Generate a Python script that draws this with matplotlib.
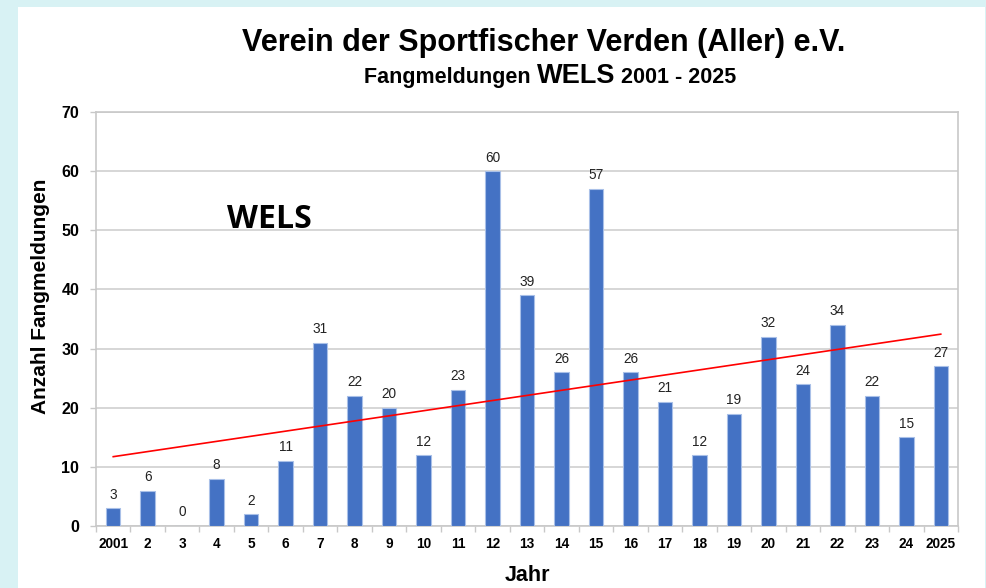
import matplotlib.pyplot as plt
import numpy as np
from matplotlib.patches import Rectangle

# Data
year_labels = ['2001', '2', '3', '4', '5', '6', '7', '8', '9', '10', '11', '12', '13',
               '14', '15', '16', '17', '18', '19', '20', '21', '22', '23', '24', '2025']
catches = [3, 6, 0, 8, 2, 11, 31, 22, 20, 12, 23, 60, 39, 26, 57, 26, 21, 12, 19, 32,
           24, 34, 22, 15, 27]

plt.rcParams['font.family'] = ['Liberation Sans', 'DejaVu Sans']

fig = plt.figure(figsize=(9.86, 5.88), dpi=100)
fig.patch.set_facecolor('#d8f2f4')
# white panel
fig.patches.append(Rectangle((18 / 986, 0), (985 - 18) / 986, 1 - 7 / 588,
                             transform=fig.transFigure, facecolor='white',
                             edgecolor='none', zorder=-1))

ax = fig.add_axes([96 / 986, 1 - 526 / 588, (958 - 96) / 986, (526 - 112) / 588])
ax.set_zorder(2)
ax.patch.set_alpha(0)

x = np.arange(1, len(catches) + 1)
ax.bar(x, catches, width=0.42, color='#4472c4', edgecolor='#a9c0e8', linewidth=0.8, zorder=3)

for xi, v in zip(x, catches):
    ax.text(xi, v + 1.1, str(v), ha='center', va='bottom', fontsize=9.8, color='#222222', zorder=4)

# linear trend
k, d = np.polyfit(x, catches, 1)
ax.plot(x, k * x + d, color='#ff0000', linewidth=1.2, zorder=5)

ax.set_xlim(0.5, len(catches) + 0.5)
ax.set_ylim(0, 70)
ax.set_yticks(range(0, 71, 10))
ax.yaxis.grid(True, color='#d0d0d0', linewidth=1.2, zorder=0)
ax.set_axisbelow(True)

ax.set_xticks(x)
ax.set_xticklabels(year_labels, fontweight='bold', fontsize=9.8)
ax.set_xticks(np.arange(0.5, len(catches) + 1, 1), minor=True)
ax.tick_params(axis='x', which='major', length=0, pad=8)
ax.tick_params(axis='x', which='minor', length=4, color='#c8c8c8', width=1)
ax.tick_params(axis='y', length=4, color='#c8c8c8', width=1, labelsize=11.5, pad=8)
for lbl in ax.get_yticklabels():
    lbl.set_fontweight('bold')

for side in ['left', 'bottom', 'right', 'top']:
    ax.spines[side].set_color('#c8c8c8')
    ax.spines[side].set_linewidth(1.2)

ax.set_xlabel('Jahr', fontsize=15.5, fontweight='bold', labelpad=10)
ax.set_ylabel('Anzahl Fangmeldungen', fontsize=15, fontweight='bold')
ax.yaxis.set_label_coords(-0.053, 0.556)

ax.text(4.3, 51.9, 'WELS', fontsize=23, fontweight='bold', family=['Open Sans', 'DejaVu Sans'],
        ha='left', va='center')

fig.text(544 / 986, 1 - 43 / 588, 'Verein der Sportfischer Verden (Aller) e.V.',
         fontsize=22, fontweight='bold', ha='center', va='center')

# subtitle with a larger "WELS"
parts = [('Fangmeldungen ', 15.5), ('WELS', 19.5), (' 2001 - 2025', 15.5)]
base_y = 1 - 83 / 588
xpos = 364
renderer = fig.canvas.get_renderer()
for txt, size in parts:
    t = fig.text(xpos / 986, base_y, txt, fontsize=size, fontweight='bold',
                 ha='left', va='baseline')
    xpos = t.get_window_extent(renderer).x1

fig.savefig('out.png', dpi=100, facecolor=fig.get_facecolor())
